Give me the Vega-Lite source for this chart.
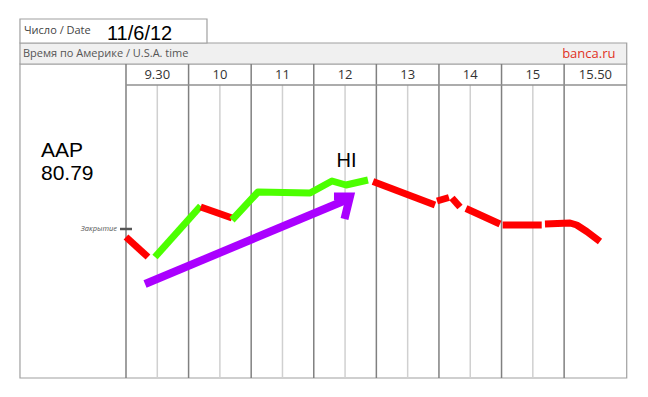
{
  "$schema": "https://vega.github.io/schema/vega-lite/v6.json",
  "width": 648,
  "height": 397,
  "autosize": {"type": "fit", "contains": "padding"},
  "padding": 0,
  "background": "white",
  "config": {"view": {"stroke": null}},
  "datasets": {
    "majors": [{"slot": 0}, {"slot": 1}, {"slot": 2}, {"slot": 3}, {"slot": 4}, {"slot": 5}, {"slot": 6}, {"slot": 7}],
    "halves": [{"slot": 0.5}, {"slot": 1.5}, {"slot": 2.5}, {"slot": 3.5}, {"slot": 4.5}, {"slot": 5.5}, {"slot": 6.5}],
    "times": [
      {"slot": 0.5, "label": "9.30"}, {"slot": 1.5, "label": "10"}, {"slot": 2.5, "label": "11"},
      {"slot": 3.5, "label": "12"}, {"slot": 4.5, "label": "13"}, {"slot": 5.5, "label": "14"},
      {"slot": 6.5, "label": "15"}, {"slot": 7.5, "label": "15.50"}
    ],
    "price": [
      {"seg": "a", "trend": "down", "ord": 0, "slot": 0.0, "price": 80.63},
      {"seg": "a", "trend": "down", "ord": 1, "slot": 0.351, "price": 80.23},
      {"seg": "b", "trend": "up", "ord": 0, "slot": 0.463, "price": 80.23},
      {"seg": "b", "trend": "up", "ord": 1, "slot": 1.193, "price": 81.25},
      {"seg": "c", "trend": "down", "ord": 0, "slot": 1.193, "price": 81.23},
      {"seg": "c", "trend": "down", "ord": 1, "slot": 1.694, "price": 81.01},
      {"seg": "d", "trend": "up", "ord": 0, "slot": 1.694, "price": 80.97},
      {"seg": "d", "trend": "up", "ord": 1, "slot": 2.109, "price": 81.53},
      {"seg": "d", "trend": "up", "ord": 2, "slot": 2.940, "price": 81.51},
      {"seg": "d", "trend": "up", "ord": 3, "slot": 3.291, "price": 81.75},
      {"seg": "d", "trend": "up", "ord": 4, "slot": 3.515, "price": 81.67},
      {"seg": "d", "trend": "up", "ord": 5, "slot": 3.866, "price": 81.77},
      {"seg": "e", "trend": "down", "ord": 0, "slot": 3.946, "price": 81.74},
      {"seg": "e", "trend": "down", "ord": 1, "slot": 4.937, "price": 81.27},
      {"seg": "f", "trend": "down", "ord": 0, "slot": 4.969, "price": 81.35},
      {"seg": "f", "trend": "down", "ord": 1, "slot": 5.160, "price": 81.42},
      {"seg": "g", "trend": "down", "ord": 0, "slot": 5.208, "price": 81.41},
      {"seg": "g", "trend": "down", "ord": 1, "slot": 5.336, "price": 81.23},
      {"seg": "h", "trend": "down", "ord": 0, "slot": 5.432, "price": 81.20},
      {"seg": "h", "trend": "down", "ord": 1, "slot": 5.975, "price": 80.89},
      {"seg": "i", "trend": "down", "ord": 0, "slot": 6.018, "price": 80.87},
      {"seg": "i", "trend": "down", "ord": 1, "slot": 6.642, "price": 80.87},
      {"seg": "j", "trend": "down", "ord": 0, "slot": 6.694, "price": 80.89},
      {"seg": "j", "trend": "down", "ord": 1, "slot": 7.094, "price": 80.91},
      {"seg": "j", "trend": "down", "ord": 2, "slot": 7.201, "price": 80.87},
      {"seg": "j", "trend": "down", "ord": 3, "slot": 7.361, "price": 80.74},
      {"seg": "j", "trend": "down", "ord": 4, "slot": 7.573, "price": 80.54}
    ],
    "arrow": [
      {"part": "shaft", "ord": 0, "slot": 0.304, "price": 79.69},
      {"part": "shaft", "ord": 1, "slot": 3.515, "price": 81.37},
      {"part": "head", "ord": 0, "slot": 3.323, "price": 81.44},
      {"part": "head", "ord": 1, "slot": 3.579, "price": 81.44},
      {"part": "head", "ord": 2, "slot": 3.491, "price": 80.99}
    ]
  },
  "layer": [
    {
      "data": {"values": [{"slot": -1.694, "slot2": 8.0, "top": 84.09, "bottom": 77.81}]},
      "mark": {"type": "rect", "fill": "white", "stroke": "#a0a0a0", "strokeWidth": 1.2},
      "encoding": {
        "x": {"field": "slot", "type": "quantitative", "scale": {"domain": [-2.0131, 8.34], "nice": false, "zero": false}, "axis": null},
        "x2": {"field": "slot2"},
        "y": {"field": "top", "type": "quantitative", "scale": {"domain": [77.43, 85.37], "nice": false, "zero": false}, "axis": null},
        "y2": {"field": "bottom"}
      }
    },
    {
      "data": {"values": [{"slot": -1.694, "slot2": 8.0, "top": 84.51, "bottom": 84.09}]},
      "mark": {"type": "rect", "fill": "#f0f0f0", "stroke": "#a0a0a0", "strokeWidth": 1.2},
      "encoding": {
        "x": {"field": "slot", "type": "quantitative"},
        "x2": {"field": "slot2"},
        "y": {"field": "top", "type": "quantitative"},
        "y2": {"field": "bottom"}
      }
    },
    {
      "data": {"values": [{"slot": -1.694, "slot2": 1.294, "top": 84.99, "bottom": 84.51}]},
      "mark": {"type": "rect", "fill": "white", "stroke": "#a0a0a0", "strokeWidth": 1.2},
      "encoding": {
        "x": {"field": "slot", "type": "quantitative"},
        "x2": {"field": "slot2"},
        "y": {"field": "top", "type": "quantitative"},
        "y2": {"field": "bottom"}
      }
    },
    {
      "data": {"name": "halves"},
      "mark": {"type": "rule", "stroke": "#d0d0d0", "strokeWidth": 1.5},
      "encoding": {
        "x": {"field": "slot", "type": "quantitative"},
        "y": {"datum": 83.67},
        "y2": {"datum": 77.81}
      }
    },
    {
      "data": {"name": "majors"},
      "mark": {"type": "rule", "stroke": "#808080", "strokeWidth": 1.5},
      "encoding": {
        "x": {"field": "slot", "type": "quantitative"},
        "y": {"datum": 84.09},
        "y2": {"datum": 77.81}
      }
    },
    {
      "data": {"values": [{"slot": 0, "slot2": 8.0}]},
      "mark": {"type": "rule", "stroke": "#909090", "strokeWidth": 1.3},
      "encoding": {
        "x": {"field": "slot", "type": "quantitative"},
        "x2": {"field": "slot2"},
        "y": {"datum": 83.67}
      }
    },
    {
      "data": {"name": "times"},
      "mark": {"type": "text", "font": "Open Sans", "fontSize": 13, "color": "#333333", "baseline": "middle", "align": "center"},
      "encoding": {
        "x": {"field": "slot", "type": "quantitative"},
        "y": {"datum": 83.88},
        "text": {"field": "label"}
      }
    },
    {
      "data": {"values": [{"slot": -1.63, "price": 84.75, "label": "Число / Date"}]},
      "mark": {"type": "text", "font": "Open Sans", "fontSize": 11, "color": "#444444", "baseline": "middle", "align": "left"},
      "encoding": {
        "x": {"field": "slot", "type": "quantitative"},
        "y": {"field": "price", "type": "quantitative"},
        "text": {"field": "label"}
      }
    },
    {
      "data": {"values": [{"slot": -1.646, "price": 84.30, "label": "Время по Америке / U.S.A. time"}]},
      "mark": {"type": "text", "font": "Open Sans", "fontSize": 11, "color": "#555555", "baseline": "middle", "align": "left"},
      "encoding": {
        "x": {"field": "slot", "type": "quantitative"},
        "y": {"field": "price", "type": "quantitative"},
        "text": {"field": "label"}
      }
    },
    {
      "data": {"values": [{"slot": 7.82, "price": 84.30, "label": "banca.ru"}]},
      "mark": {"type": "text", "font": "Open Sans", "fontSize": 13, "color": "#e0301e", "baseline": "middle", "align": "right"},
      "encoding": {
        "x": {"field": "slot", "type": "quantitative"},
        "y": {"field": "price", "type": "quantitative"},
        "text": {"field": "label"}
      }
    },
    {
      "data": {"values": [{"slot": -0.304, "price": 84.58, "label": "11/6/12"}]},
      "mark": {"type": "text", "font": "Liberation Sans", "fontSize": 20, "color": "#000000", "baseline": "alphabetic", "align": "left"},
      "encoding": {
        "x": {"field": "slot", "type": "quantitative"},
        "y": {"field": "price", "type": "quantitative"},
        "text": {"field": "label"}
      }
    },
    {
      "data": {"values": [{"slot": -1.358, "price": 82.23, "label": "AAP"}, {"slot": -1.358, "price": 81.77, "label": "80.79"}]},
      "mark": {"type": "text", "font": "Liberation Sans", "fontSize": 21, "color": "#000000", "baseline": "alphabetic", "align": "left"},
      "encoding": {
        "x": {"field": "slot", "type": "quantitative"},
        "y": {"field": "price", "type": "quantitative"},
        "text": {"field": "label"}
      }
    },
    {
      "data": {"values": [{"slot": 3.523, "price": 82.03, "label": "HI"}]},
      "mark": {"type": "text", "font": "Liberation Sans", "fontSize": 20, "color": "#000000", "baseline": "alphabetic", "align": "center"},
      "encoding": {
        "x": {"field": "slot", "type": "quantitative"},
        "y": {"field": "price", "type": "quantitative"},
        "text": {"field": "label"}
      }
    },
    {
      "data": {"values": [{"slot": -0.144, "price": 80.79, "label": "Закрытие"}]},
      "mark": {"type": "text", "font": "Open Sans", "fontSize": 7.5, "fontStyle": "italic", "color": "#555555", "baseline": "middle", "align": "right"},
      "encoding": {
        "x": {"field": "slot", "type": "quantitative"},
        "y": {"field": "price", "type": "quantitative"},
        "text": {"field": "label"}
      }
    },
    {
      "data": {"values": [{"slot": -0.096, "slot2": 0.096, "price": 80.79}]},
      "mark": {"type": "rule", "stroke": "#555555", "strokeWidth": 2.5},
      "encoding": {
        "x": {"field": "slot", "type": "quantitative"},
        "x2": {"field": "slot2"},
        "y": {"field": "price", "type": "quantitative"}
      }
    },
    {
      "data": {"name": "price"},
      "mark": {"type": "line", "strokeWidth": 7, "strokeCap": "butt", "strokeJoin": "round"},
      "encoding": {
        "x": {"field": "slot", "type": "quantitative"},
        "y": {"field": "price", "type": "quantitative"},
        "detail": {"field": "seg"},
        "order": {"field": "ord", "type": "quantitative"},
        "color": {"field": "trend", "type": "nominal", "scale": {"domain": ["down", "up"], "range": ["#ff0000", "#4cff00"]}, "legend": null}
      }
    },
    {
      "data": {"name": "arrow"},
      "mark": {"type": "line", "strokeWidth": 8, "strokeCap": "butt", "strokeJoin": "miter", "color": "#aa00ff"},
      "encoding": {
        "x": {"field": "slot", "type": "quantitative"},
        "y": {"field": "price", "type": "quantitative"},
        "detail": {"field": "part"},
        "order": {"field": "ord", "type": "quantitative"}
      }
    }
  ]
}
